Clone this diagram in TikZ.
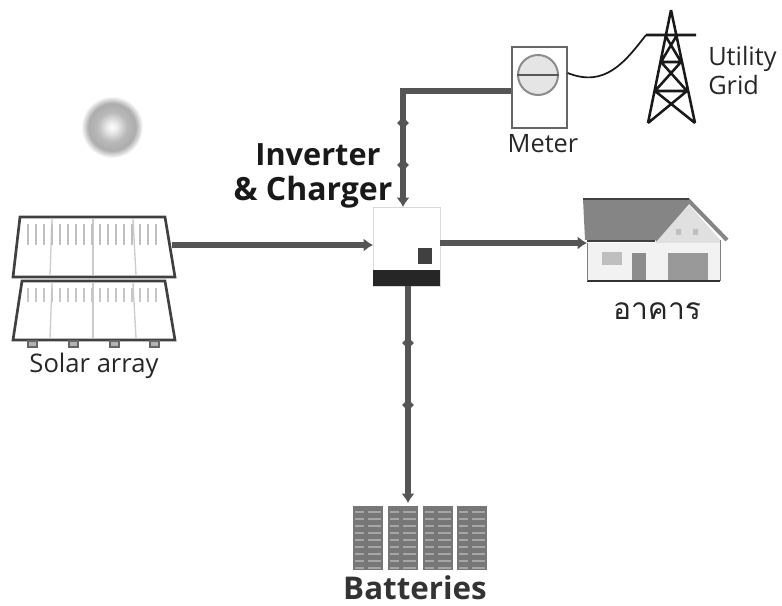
\documentclass[tikz,border=0pt]{standalone}
\usepackage{fontspec}
\setmainfont{Open Sans}
\newfontfamily\thaifont[Script=Thai]{Loma}
\usetikzlibrary{shapes.geometric,arrows.meta}
\definecolor{wire}{HTML}{555555}
\definecolor{roofgray}{HTML}{858585}
\definecolor{battgray}{HTML}{777777}
\pgfdeclareradialshading{sunglow}{\pgfpointorigin}{
  color(0bp)=(white); color(4bp)=(white!85!gray); color(12bp)=(gray!55!white);
  color(19bp)=(gray!65!white); color(25bp)=(white)}
\tikzset{
  wireline/.style={draw=wire,line width=4.2pt,-{Latex[length=7pt,width=10pt]}},
  tick/.style={diamond,fill=wire,inner sep=0pt,minimum size=9pt},
  label/.style={inner sep=0pt,text=black!85},
  panel/.style={draw=black!75,line width=2pt,fill=white,line join=miter},
  cell/.style={draw=black!20,line width=1pt},
  frame/.style={inner sep=0pt,anchor=north west},
}
\begin{document}
\begin{tikzpicture}[x=0.75pt,y=-0.75pt]
        \useasboundingbox (0,0) rectangle (782,606);
        % sun
        \shade[shading=sunglow] (112,127) circle (31);
        % solar array
        \draw[panel] (22,281) -- (165,281) -- (175,340) -- (13,340) -- cycle;
        \draw[panel] (20,217) -- (165,217) -- (175,277) -- (13,277) -- cycle;
        \foreach \x in {32,73,114,154} {
          \draw[draw=black!60,fill=black!30,line width=1pt] (\x-4,341) rectangle (\x+5,347);
        }
        \foreach \a/\b in {52/50,93/93,133/136} {
          \draw[cell] (\a,219) -- (\b,275);
          \draw[cell] (\a,283) -- (\b,338);
        }
        \foreach \x in {28,36,...,156} {
          \draw[draw=black!25,line width=1.5pt] (\x,224) -- (\x,245);
          \draw[draw=black!22,line width=1.5pt] (\x,288) -- (\x,302);
        }
        \coordinate (arrayport) at (172,245);
        \node[label,font=\fontsize{19.2}{22}\selectfont] (arraylabel) at (94,366) {Solar array};
        % inverter
        \node[frame,draw=black!15,fill=white,minimum width=50pt,minimum height=59pt] (inverter) at (373,207) {};
        \fill[black!85] (373,270) rectangle (440,286);
        \fill[black!75] (418,248) rectangle (432,264);
        \node[label,font=\fontsize{23}{26}\selectfont\bfseries,text=black!90] (invlabel) at (318,155) {Inverter};
        \node[label,font=\fontsize{24}{28}\selectfont\bfseries,text=black!90] (chglabel) at (313,192) {\& Charger};
        % meter
        \node[frame,draw=black!60,line width=1.5pt,fill=white,minimum width=41pt,minimum height=61pt] (meter) at (511,46) {};
        \node[circle,draw=black!45,line width=1.5pt,fill=black!10,minimum size=30pt,inner sep=0pt] (dial) at (538,75) {};
        \draw[black!65,line width=1.5pt] (dial.west) -- (dial.east);
        \node[label,font=\fontsize{19}{22}\selectfont] (meterlabel) at (543,144) {Meter};
        % utility tower
        \coordinate (arm) at (646,35);
        \draw[black!90,line width=1.9pt,line join=round]
          (671,10) -- (648,123) (671,10) -- (695,123)
          (arm) -- (696,35)
          (661,62) -- (681,62) (655,91) -- (687,91)
          (665,35) -- (681,62) -- (655,91) -- (695,123)
          (677,35) -- (661,62) -- (687,91) -- (648,123);
        \node[label,font=\fontsize{19}{22}\selectfont,anchor=west] (utillabel) at (708,59) {Utility};
        \node[label,font=\fontsize{19}{22}\selectfont,anchor=west] (gridlabel) at (708,85) {Grid};
        % house
        \node[frame,minimum width=100pt,minimum height=29pt] (house) at (587,243) {};
        \fill[black!12] (655,243) -- (689,205) -- (720,240) -- (720,281) -- (655,281) -- cycle;
        \fill[black!5] (587,243) rectangle (720,281);
        \fill[black!12] (655,240) -- (689,205) -- (720,240) -- cycle;
        \fill[black!25] (602,252) rectangle (622,265);
        \fill[black!45] (632,253) rectangle (646,281);
        \fill[black!40] (668,253) rectangle (708,280);
        \fill[black!25] (676,229) rectangle (681,235) (693,229) rectangle (698,235);
        \fill[roofgray] (583,199) -- (689,199) -- (655,240) -- (585,240) -- cycle;
        \draw[roofgray,line width=3pt] (655,240) -- (689,201) -- (727,240);
        \draw[black!75,line width=1.5pt] (583,199) -- (689,199);
        \draw[black!75,line width=1.5pt] (587,241) -- (655,241);
        \draw[black!80,line width=1.5pt] (587,281) -- (720,281);
        \draw[black!50] (587,243) -- (587,281) (720,240) -- (720,281);
        \node[label,font=\thaifont\fontsize{22.5}{26}\selectfont] (thailabel) at (657,311) {อาคาร};
        % batteries
        \foreach \x/\n in {353/a,388/b,423/c,457/d} {
          \node[frame,fill=battgray,minimum width=22.5pt,minimum height=48pt] (batt\n) at (\x,506) {};
          \foreach \y in {512,519,...,568} {
            \draw[black!35,line width=1pt] (\x+2,\y) -- (\x+11,\y) (\x+15,\y) -- (\x+28,\y);
          }
        }
        \node[frame,minimum width=100pt,minimum height=48pt] (batteries) at (353,506) {};
        \node[label,font=\fontsize{23.5}{28}\selectfont\bfseries,text=black!80] (battlabel) at (415,588) {Batteries};
        % connectors
        \draw[wireline] (arrayport) -- (inverter.west |- arrayport);
        \draw[wireline] (meter.west |- 0,91) -- (403,91) -- (403,207);
        \node[tick] (tickc) at (403,123) {};
        \node[tick] (tickd) at (403,165) {};
        \draw[wireline] (inverter.east |- 0,243) -- (house.north west);
        \draw[wireline] (408,286) -- (408,503);
        \node[tick] (ticka) at (408,343) {};
        \node[tick] (tickb) at (408,405) {};
        \draw[black!90,line width=1.3pt] (meter.east |- 0,73) .. controls (605,88) and (625,62) .. (arm);
\end{tikzpicture}
\end{document}
